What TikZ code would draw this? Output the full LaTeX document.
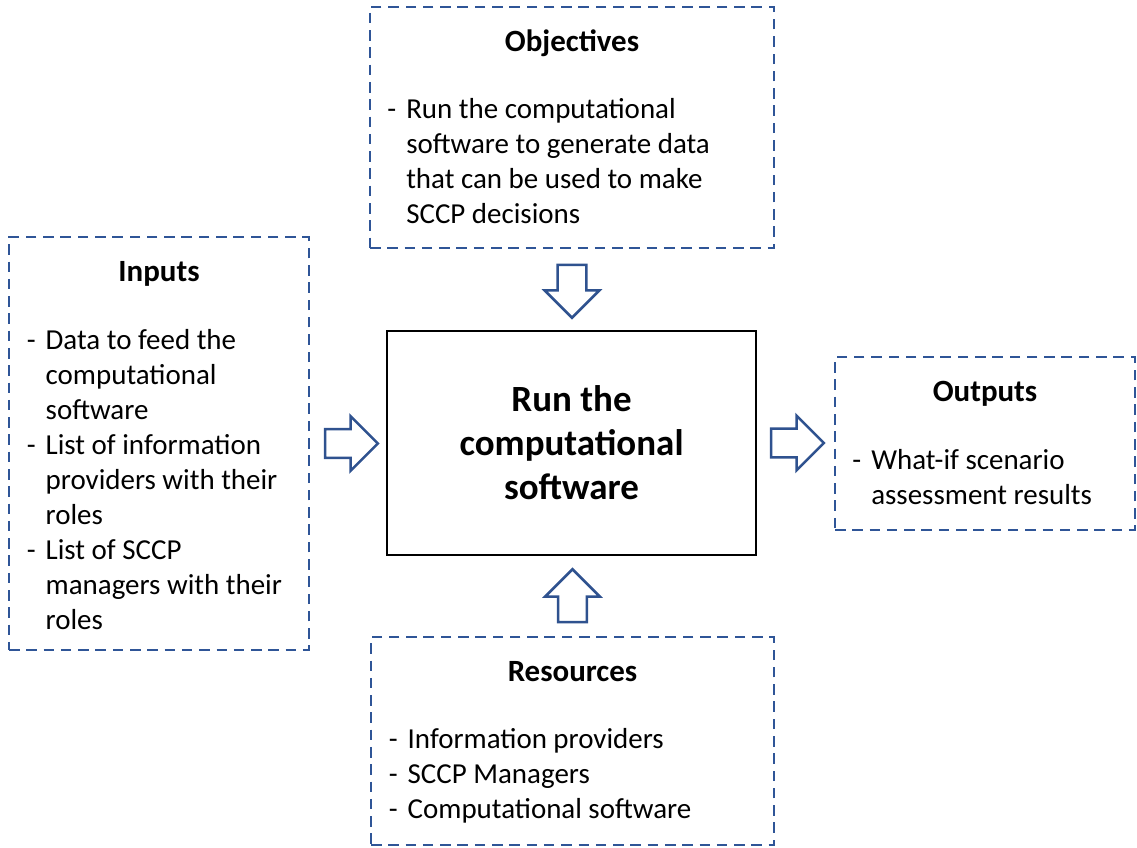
\documentclass[tikz,border=0pt]{standalone}
\usepackage{fontspec}
\setmainfont{Carlito}
\usetikzlibrary{shapes.arrows,calc}

\definecolor{boxblue}{RGB}{47,85,151}
\definecolor{arrowblue}{RGB}{47,82,143}

\tikzset{
  dashbox/.style={draw=boxblue,line width=1.8pt,dash pattern=on 7.5pt off 4.8pt,inner sep=0pt},
  boxtitle/.style={anchor=base,inner sep=0pt,font=\fontsize{22}{26}\selectfont\bfseries},
  boxlist/.style={anchor=base west,inner sep=0pt,font=\fontsize{20.6}{24.9}\selectfont},
  blockarrow/.style={single arrow,draw=arrowblue,fill=white,line width=1.8pt,
    minimum height=1.32cm,minimum width=0pt,inner xsep=0pt,inner ysep=0.33cm,
    single arrow head extend=0.32cm,anchor=tail},
}

\begin{document}
\begin{tikzpicture}[x=1cm,y=1cm]
    \useasboundingbox (0,0) rectangle (28.425,-21.2);

    % Central activity box
    \node[draw=black,line width=1.5pt,minimum width=9.225cm,minimum height=5.6cm,
          align=center,font=\fontsize{26.3}{31.3}\selectfont\bfseries]
        (run) at (14.2875,-11.075) {Run the\\computational\\software};

    % The four dashed boxes around it
    \node[dashbox,minimum width=10.1cm,minimum height=6.025cm] (objectives) at (14.3,-3.1875) {};
    \node[dashbox,minimum width=7.5cm,minimum height=10.325cm] (inputs) at (3.975,-11.0875) {};
    \node[dashbox,minimum width=7.5cm,minimum height=4.325cm] (outputs) at (24.625,-11.0875) {};
    \node[dashbox,minimum width=10.075cm,minimum height=5.2cm] (resources) at (14.3125,-18.525) {};

    \node[boxtitle] (objtitle) at ($(objectives.north)+(0,-1.15)$) {Objectives};
    \node[boxlist] (objlist) at ($(objectives.north west)+(0.46,-2.82)$)
        {\begin{tabular}[t]{@{}l@{\hspace{0.25cm}}l@{}}
          - & Run the computational\\
            & software to generate data\\
            & that can be used to make\\
            & SCCP decisions
         \end{tabular}};

    \node[boxtitle] (intitle) at ($(inputs.north)+(0,-1.15)$) {Inputs};
    \node[boxlist] (inlist) at ($(inputs.north west)+(0.47,-2.84)$)
        {\begin{tabular}[t]{@{}l@{\hspace{0.25cm}}l@{}}
          - & Data to feed the\\
            & computational\\
            & software\\
          - & List of information\\
            & providers with their\\
            & roles\\
          - & List of SCCP\\
            & managers with their\\
            & roles
         \end{tabular}};

    \node[boxtitle] (outtitle) at ($(outputs.north)+(0,-1.15)$) {Outputs};
    \node[boxlist] (outlist) at ($(outputs.north west)+(0.46,-2.84)$)
        {\begin{tabular}[t]{@{}l@{\hspace{0.25cm}}l@{}}
          - & What-if scenario\\
            & assessment results
         \end{tabular}};

    \node[boxtitle] (restitle) at ($(resources.north)+(0,-1.15)$) {Resources};
    \node[boxlist] (reslist) at ($(resources.north west)+(0.47,-2.82)$)
        {\begin{tabular}[t]{@{}l@{\hspace{0.25cm}}l@{}}
          - & Information providers\\
          - & SCCP Managers\\
          - & Computational software
         \end{tabular}};

    % Block arrows, tail just off the dashed box
    \node[blockarrow,rotate=-90] (objarrow) at ($(objectives.south)+(0,-0.36)$) {};
    \node[blockarrow] (inarrow) at ($(inputs.east)+(0.34,0)$) {};
    \node[blockarrow] (outarrow) at ($(run.east)+(0.32,0)$) {};
    \node[blockarrow,rotate=90] (resarrow) at ($(resources.north)+(0,0.31)$) {};
\end{tikzpicture}
\end{document}
